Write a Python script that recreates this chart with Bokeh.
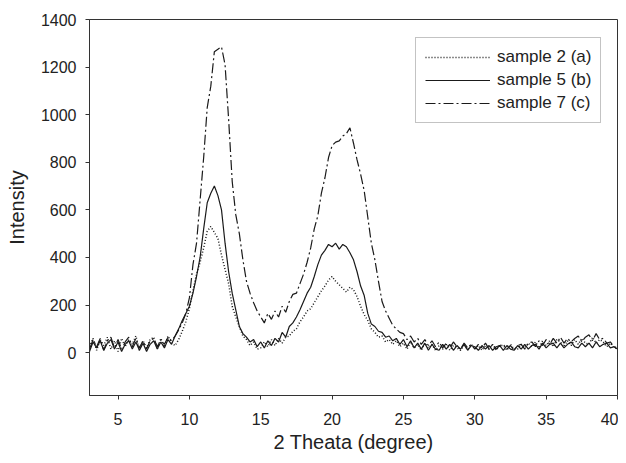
from bokeh.plotting import figure
from bokeh.models import Range1d, FixedTicker, Legend
from bokeh.embed import file_html
from bokeh.resources import INLINE

# x grid: 3.00 .. 40.00 in steps of 0.25 degree
two_theta = [3 + 0.25 * i for i in range(149)]

sample_2a = [
    25, 60, 10, 55,   30, 65, 15, 50,   5, 60, 25, 55,    35, 70, 10, 50,
    20, 55, 65, 15,   60, 25, 70, 40,   30, 55, 90, 130,  185, 260, 330, 380,
    440, 510, 530, 505, 480, 410, 350, 290, 195, 150, 110, 70, 55, 30, 45, 15,
    20, 45, 25, 55,   30, 60, 40, 65,   70, 90, 100, 130, 150, 175, 185, 210,
    235, 260, 280, 305, 320, 300, 285, 270, 255, 275, 265, 235, 195, 160, 135, 100,
    85, 65, 70, 45,   55, 35, 50, 25,   40, 15, 45, 20,   35, 10, 40, 20,
    35, 10, 30, 15,   35, 10, 30, 20,   10, 30, 15, 35,   15, 30, 10, 30,
    15, 35, 10, 30,   30, 10, 35, 15,   15, 35, 20, 40,   25, 45, 20, 50,
    30, 50, 25, 55,   45, 25, 50, 30,   55, 35, 60, 40,   35, 65, 40, 55,
    45, 25, 40, 20,   20,
]

sample_5b = [
    5, 45, 20, 50,    10, 40, 55, 15,   45, 5, 35, 50,    15, 45, 10, 40,
    5, 35, 50, 15,    45, 20, 55, 35,   70, 100, 135, 165, 195, 250, 320, 400,
    520, 630, 670, 700, 660, 600, 460, 340, 250, 180, 110, 80, 65, 45, 55, 25,
    45, 20, 50, 30,   60, 45, 85, 65,   110, 125, 150, 180, 215, 250, 275, 320,
    370, 410, 430, 455, 445, 460, 435, 455, 445, 420, 390, 340, 280, 240, 165, 120,
    110, 90, 85, 65,  70, 50, 60, 35,   55, 25, 50, 20,   40, 15, 40, 10,
    35, 15, 10, 35,   15, 35, 10, 30,   15, 35, 10, 30,   25, 10, 30, 15,
    30, 10, 25, 30,   10, 30, 15, 10,   30, 15, 35, 15,   30, 35, 15, 40,
    20, 35, 40, 20,   40, 20, 35, 45,   25, 20, 40, 25,   40, 20, 45, 25,
    35, 40, 20, 25,   15,
]

sample_7c = [
    15, 55, 25, 60,   10, 50, 65, 20,   55, 15, 45, 65,   25, 60, 20, 50,
    15, 50, 60, 25,   55, 35, 65, 50,   70, 95, 125, 165, 230, 370, 460, 640,
    820, 1030, 1120, 1265, 1275, 1285, 1210, 980, 720, 580, 500, 390, 300, 250, 210, 175,
    150, 125, 165, 140, 175, 150, 195, 170, 215, 245, 250, 290, 330, 380, 440, 520,
    575, 670, 735, 820, 870, 885, 890, 910, 920, 945, 880, 810, 750, 680, 570, 460,
    390, 300, 215, 175, 145, 115, 100, 85, 80, 55, 70, 45,   60, 35, 55, 30,
    50, 25, 45, 20,   40, 20, 45, 25,   15, 40, 20, 35,   15, 35, 20, 40,
    15, 35, 15, 30,   35, 15, 30, 10,   30, 35, 15, 40,   45, 25, 50, 30,
    55, 35, 60, 40,   65, 40, 60, 45,   60, 70, 45, 65,   75, 50, 80, 55,
    60, 40, 45, 25,   20,
]

labels = ["sample 2 (a)", "sample 5 (b)", "sample 7 (c)"]
x_ticks = [5, 10, 15, 20, 25, 30, 35, 40]
y_ticks = [0, 200, 400, 600, 800, 1000, 1200, 1400]

FONT = "Liberation Sans"
INK = "#222222"

p = figure(width=618, height=455, output_backend="svg", toolbar_location=None,
           x_range=Range1d(3, 40), y_range=Range1d(-180, 1400),
           min_border_left=89, min_border_right=1, min_border_top=19,
           min_border_bottom=56)

p.xgrid.visible = False
p.ygrid.visible = False
p.outline_line_color = "#333333"
p.outline_line_width = 1
p.background_fill_color = "white"
p.border_fill_color = "white"

r1 = p.line(two_theta, sample_2a, line_color="#1a1a1a", line_width=1.5, line_dash="1 2")
r2 = p.line(two_theta, sample_5b, line_color="#1a1a1a", line_width=1.2)
r3 = p.line(two_theta, sample_7c, line_color="#1a1a1a", line_width=1.2, line_dash="10 3 2 3")

for ax, ticks in ((p.xaxis, x_ticks), (p.yaxis, y_ticks)):
    ax.ticker = FixedTicker(ticks=ticks)
    ax.minor_tick_line_color = None
    ax.major_tick_in = 0
    ax.major_tick_out = 4
    ax.axis_line_color = "#333333"
    ax.major_tick_line_color = "#333333"
    ax.major_label_text_font = FONT
    ax.major_label_text_font_size = "16px"
    ax.major_label_text_color = INK
    ax.axis_label_text_font = FONT
    ax.axis_label_text_font_size = "20px"
    ax.axis_label_text_font_style = "normal"
    ax.axis_label_text_color = INK

p.xaxis.axis_label = "2 Theata (degree)"
p.yaxis.axis_label = "Intensity"
p.xaxis.major_label_standoff = 13
p.xaxis.axis_label_standoff = 3
p.yaxis.major_label_standoff = 9
p.yaxis.axis_label_standoff = 10

legend = Legend(items=[(labels[0], [r1]), (labels[1], [r2]), (labels[2], [r3])],
                location=(326, 272))
legend.margin = 0
legend.padding = 9
legend.spacing = 3
legend.glyph_width = 65
legend.glyph_height = 20
legend.label_height = 20
legend.label_standoff = 7
legend.label_text_font = FONT
legend.label_text_font_size = "17px"
legend.label_text_color = INK
legend.border_line_color = "#888888"
legend.border_line_width = 1
legend.background_fill_alpha = 1
p.add_layout(legend, "center")

open("out.html", "w").write(file_html(p, INLINE))
